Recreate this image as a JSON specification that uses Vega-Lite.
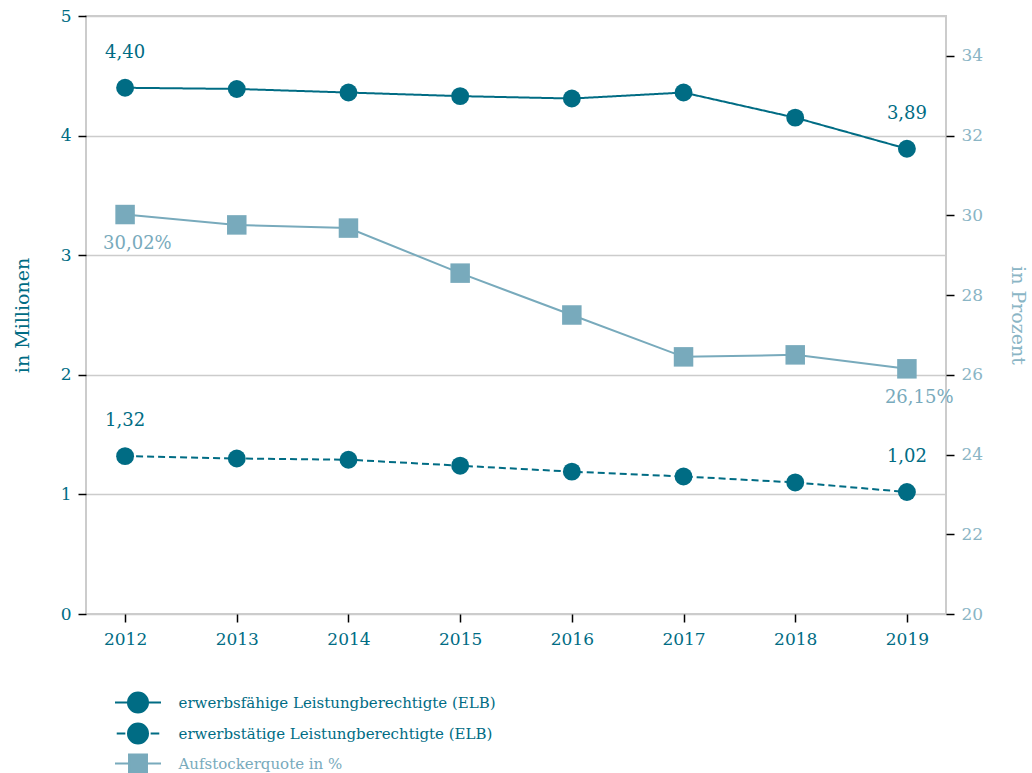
{
  "$schema": "https://vega.github.io/schema/vega-lite/v6.json",
  "width": 860,
  "height": 598,
  "autosize": {"type": "none"},
  "padding": {"left": 86, "top": 16, "right": 86, "bottom": 159},
  "background": "white",
  "config": {
    "font": "DejaVu Serif",
    "view": {"stroke": "#cccccc", "strokeWidth": 2},
    "axis": {
      "labelFont": "DejaVu Serif",
      "titleFont": "DejaVu Serif",
      "labelFontSize": 17,
      "titleFontSize": 19,
      "titleFontWeight": "normal",
      "tickColor": "#000000",
      "tickSize": 8,
      "tickWidth": 1.5,
      "domain": false,
      "gridColor": "#cccccc",
      "gridWidth": 1.5,
      "labelPadding": 7
    },
    "legend": {"labelFont": "DejaVu Serif"}
  },
  "data": {
    "values": [
      {"year": "2012", "series": "erwerbsfähige Leistungberechtigte (ELB)", "value": 4.40, "label": "4,40"},
      {"year": "2013", "series": "erwerbsfähige Leistungberechtigte (ELB)", "value": 4.39, "label": ""},
      {"year": "2014", "series": "erwerbsfähige Leistungberechtigte (ELB)", "value": 4.36, "label": ""},
      {"year": "2015", "series": "erwerbsfähige Leistungberechtigte (ELB)", "value": 4.33, "label": ""},
      {"year": "2016", "series": "erwerbsfähige Leistungberechtigte (ELB)", "value": 4.31, "label": ""},
      {"year": "2017", "series": "erwerbsfähige Leistungberechtigte (ELB)", "value": 4.36, "label": ""},
      {"year": "2018", "series": "erwerbsfähige Leistungberechtigte (ELB)", "value": 4.15, "label": ""},
      {"year": "2019", "series": "erwerbsfähige Leistungberechtigte (ELB)", "value": 3.89, "label": "3,89"},
      {"year": "2012", "series": "erwerbstätige Leistungberechtigte (ELB)", "value": 1.32, "label": "1,32"},
      {"year": "2013", "series": "erwerbstätige Leistungberechtigte (ELB)", "value": 1.30, "label": ""},
      {"year": "2014", "series": "erwerbstätige Leistungberechtigte (ELB)", "value": 1.29, "label": ""},
      {"year": "2015", "series": "erwerbstätige Leistungberechtigte (ELB)", "value": 1.24, "label": ""},
      {"year": "2016", "series": "erwerbstätige Leistungberechtigte (ELB)", "value": 1.19, "label": ""},
      {"year": "2017", "series": "erwerbstätige Leistungberechtigte (ELB)", "value": 1.15, "label": ""},
      {"year": "2018", "series": "erwerbstätige Leistungberechtigte (ELB)", "value": 1.10, "label": ""},
      {"year": "2019", "series": "erwerbstätige Leistungberechtigte (ELB)", "value": 1.02, "label": "1,02"},
      {"year": "2012", "series": "Aufstockerquote in %", "value": 30.02, "label": "30,02%"},
      {"year": "2013", "series": "Aufstockerquote in %", "value": 29.76, "label": ""},
      {"year": "2014", "series": "Aufstockerquote in %", "value": 29.68, "label": ""},
      {"year": "2015", "series": "Aufstockerquote in %", "value": 28.55, "label": ""},
      {"year": "2016", "series": "Aufstockerquote in %", "value": 27.50, "label": ""},
      {"year": "2017", "series": "Aufstockerquote in %", "value": 26.45, "label": ""},
      {"year": "2018", "series": "Aufstockerquote in %", "value": 26.50, "label": ""},
      {"year": "2019", "series": "Aufstockerquote in %", "value": 26.15, "label": "26,15%"}
    ]
  },
  "encoding": {
    "x": {
      "field": "year",
      "type": "ordinal",
      "scale": {"type": "point", "padding": 0.35},
      "axis": {"title": null, "labelAngle": 0, "labelColor": "#006c84", "labelPadding": 9, "grid": false}
    }
  },
  "layer": [
    {
      "transform": [{"filter": "datum.series != 'Aufstockerquote in %'"}],
      "encoding": {
        "y": {
          "field": "value",
          "type": "quantitative",
          "scale": {"domain": [0, 5], "nice": false, "zero": false},
          "axis": {
            "title": "in Millionen",
            "titleColor": "#006c84",
            "labelColor": "#006c84",
            "values": [0, 1, 2, 3, 4, 5],
            "grid": true,
            "titlePadding": 28
          }
        }
      },
      "layer": [
        {
          "mark": {"type": "line", "color": "#006c84", "strokeWidth": 2},
          "encoding": {
            "strokeDash": {
              "field": "series",
              "type": "nominal",
              "scale": {
                "domain": ["erwerbsfähige Leistungberechtigte (ELB)", "erwerbstätige Leistungberechtigte (ELB)"],
                "range": [[1, 0], [7, 4]]
              },
              "legend": null
            }
          }
        },
        {
          "mark": {"type": "point", "shape": "circle", "filled": true, "opacity": 1, "color": "#006c84", "size": 320},
          "encoding": {}
        },
        {
          "transform": [{"filter": "datum.label != ''"}],
          "mark": {"type": "text", "font": "DejaVu Serif", "color": "#006c84", "fontSize": 18, "dy": -35, "baseline": "middle", "align": "center"},
          "encoding": {"text": {"field": "label", "type": "nominal"}}
        },
        {
          "mark": {"type": "point", "filled": true, "opacity": 0, "size": 529},
          "encoding": {
            "color": {
              "field": "series",
              "type": "nominal",
              "scale": {
                "domain": ["erwerbsfähige Leistungberechtigte (ELB)", "erwerbstätige Leistungberechtigte (ELB)", "Aufstockerquote in %"],
                "range": ["#006c84", "#006c84", "#78aabc"]
              },
              "legend": {
                "title": null,
                "orient": "none",
                "legendX": 39.5,
                "legendY": 674,
                "padding": 0,
                "symbolSize": 529,
                "symbolOpacity": 1,
                "symbolStrokeWidth": 2,
                "labelFont": "DejaVu Serif",
                "labelFontSize": 15,
                "labelLimit": 600,
                "labelOffset": 28,
                "rowPadding": 2,
                "encode": {
                  "symbols": {"update": {"stroke": {"scale": "color", "field": "value"}, "fill": {"scale": "color", "field": "value"}, "strokeWidth": {"value": 2}, "opacity": {"value": 1}}},
                  "labels": {"update": {"fill": {"scale": "color", "field": "value"}}}
                }
              }
            },
            "shape": {
              "field": "series",
              "type": "nominal",
              "scale": {
                "domain": ["erwerbsfähige Leistungberechtigte (ELB)", "erwerbstätige Leistungberechtigte (ELB)", "Aufstockerquote in %"],
                "range": [
                  "M-2,0H2M0.87,0A0.87,0.87,0,1,1,-0.87,0A0.87,0.87,0,1,1,0.87,0Z",
                  "M-1.85,0H-1.1M1.1,0H1.85M0.87,0A0.87,0.87,0,1,1,-0.87,0A0.87,0.87,0,1,1,0.87,0Z",
                  "M-2,0H2M-0.78,-0.78H0.78V0.78H-0.78Z"
                ]
              },
              "legend": {
                "title": null,
                "orient": "none",
                "legendX": 39.5,
                "legendY": 674,
                "padding": 0,
                "symbolSize": 529,
                "symbolOpacity": 1,
                "labelFont": "DejaVu Serif",
                "labelFontSize": 15,
                "labelLimit": 600,
                "labelOffset": 28,
                "rowPadding": 2
              }
            }
          }
        }
      ]
    },
    {
      "transform": [{"filter": "datum.series == 'Aufstockerquote in %'"}],
      "encoding": {
        "y": {
          "field": "value",
          "type": "quantitative",
          "scale": {"domain": [20, 35], "nice": false, "zero": false},
          "axis": {
            "orient": "right",
            "title": "in Prozent",
            "titleColor": "#8ab5c5",
            "labelColor": "#8ab5c5",
            "values": [20, 22, 24, 26, 28, 30, 32, 34],
            "grid": false,
            "titlePadding": 25
          }
        }
      },
      "layer": [
        {
          "mark": {"type": "line", "color": "#78aabc", "strokeWidth": 2},
          "encoding": {}
        },
        {
          "mark": {"type": "point", "shape": "square", "filled": true, "opacity": 1, "color": "#78aabc", "size": 380},
          "encoding": {}
        },
        {
          "transform": [{"filter": "datum.label != ''"}],
          "mark": {"type": "text", "font": "DejaVu Serif", "color": "#78aabc", "fontSize": 18, "dy": 29, "dx": -22, "baseline": "middle", "align": "left"},
          "encoding": {"text": {"field": "label", "type": "nominal"}}
        }
      ]
    }
  ],
  "resolve": {"scale": {"y": "independent"}}
}
